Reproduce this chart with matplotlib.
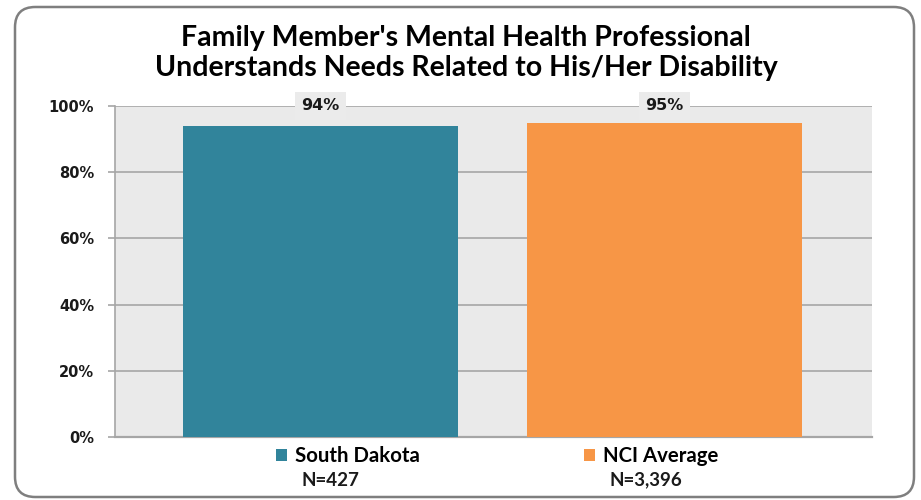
import matplotlib
matplotlib.use("Agg")
import matplotlib.pyplot as plt
from matplotlib.patches import FancyBboxPatch, Patch

# Data
series = ["South Dakota", "NCI Average"]
values = [94, 95]
sample_sizes = ["N=427", "N=3,396"]
colors = ["#31849B", "#F79646"]
yticks = [0, 20, 40, 60, 80, 100]
title = "Family Member's Mental Health Professional\nUnderstands Needs Related to His/Her Disability"

fig = plt.figure(figsize=(9.21, 5.0), dpi=100)
fig.patch.set_facecolor("white")

# Rounded outer frame
frame = FancyBboxPatch((15 / 921, 3 / 500), 899 / 921, 490 / 500,
                       boxstyle="round,pad=0,rounding_size=0.022",
                       transform=fig.transFigure, facecolor="none",
                       edgecolor="#7F7F7F", linewidth=1.8, mutation_aspect=921 / 500)
fig.patches.append(frame)

ax = fig.add_axes([115 / 921, 63 / 500, 757 / 921, 331 / 500])
ax.set_facecolor("#EAEAEA")

x = list(range(len(values)))
ax.bar(x, values, width=0.8, color=colors, zorder=3)

ax.set_xlim(-0.597, 1.603)
ax.set_ylim(0, 100)
ax.set_yticks(yticks)
ax.set_yticklabels([f"{v}%" for v in yticks], fontsize=10.5, fontweight="bold",
                   family="DejaVu Sans", color="#1A1A1A")
ax.set_xticks([])
ax.yaxis.grid(True, color="#A6A6A6", linewidth=1.2, zorder=1)
ax.set_axisbelow(True)
ax.tick_params(axis="y", length=5, color="#A6A6A6", width=1.2, pad=10)

for s in ["top", "right"]:
    ax.spines[s].set_visible(False)
ax.spines["left"].set_color("#A6A6A6")
ax.spines["left"].set_linewidth(1.2)
ax.spines["bottom"].set_color("#A6A6A6")
ax.spines["bottom"].set_linewidth(1.6)

# Value labels sitting on the top gridline
for xi, v in zip(x, values):
    ax.text(xi, 100, f"{v}%", ha="center", va="center", fontsize=11.5,
            fontweight="bold", family="DejaVu Sans", color="#1A1A1A", zorder=5,
            bbox=dict(boxstyle="square,pad=0.4", facecolor="#EBEBEB", edgecolor="none"))

fig.text(466 / 921, 1 - 53 / 500, title, ha="center", va="center",
         fontsize=20.5, fontweight="bold", family="Lato", linespacing=1.15, color="#000000")

handles = [Patch(facecolor=c, edgecolor="none") for c in colors]
leg = fig.legend(handles, series, loc="center left", bbox_to_anchor=(276 / 921, 1 - 456 / 500),
                 ncol=2, frameon=False, prop={"family": "Lato", "weight": "bold", "size": 14.7},
                 handlelength=0.55, handleheight=0.55, handletextpad=0.4,
                 columnspacing=8.0, borderpad=0, borderaxespad=0)

fig.canvas.draw()
renderer = fig.canvas.get_renderer()
inv = fig.transFigure.inverted()
for txt, n in zip(leg.get_texts(), sample_sizes):
    bb = txt.get_window_extent(renderer)
    x0 = inv.transform((bb.x0 + 6, 0))[0]
    fig.text(x0, 1 - 480 / 500, n, ha="left", va="center", fontsize=13.5,
             fontweight="bold", family="Lato", color="#1A1A1A")

fig.savefig("out.png", dpi=100)
